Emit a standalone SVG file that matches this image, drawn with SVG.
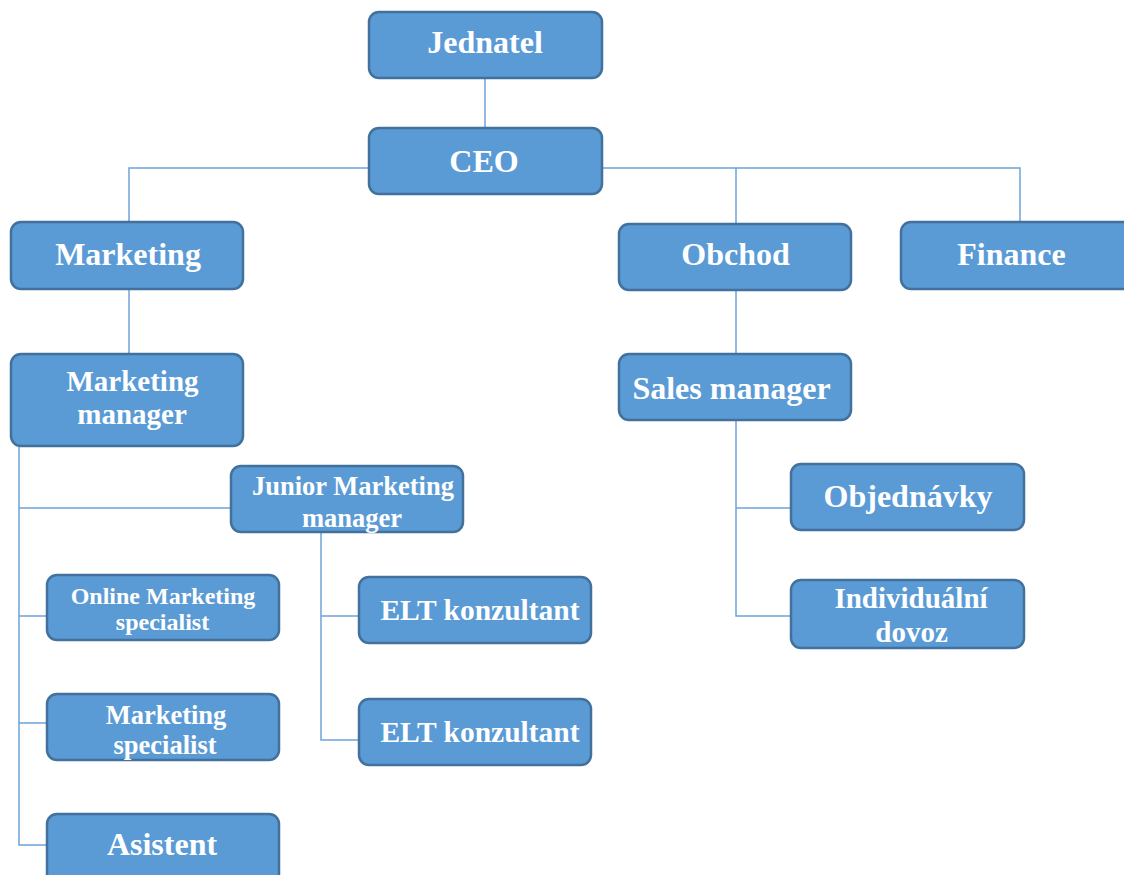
<svg xmlns="http://www.w3.org/2000/svg" width="1124" height="875" viewBox="0 0 1124 875">
<style>
.box{fill:#5b9bd5;stroke:#41719c;stroke-width:2.5}
.t{fill:#fff;font-family:"Liberation Serif","Times New Roman",serif;font-weight:bold;text-anchor:middle}
.c{fill:none;stroke:#6fa3d8;stroke-width:1.5}
</style>
<defs>
<clipPath id="clipMS"><rect x="47" y="694" width="232" height="66" rx="10"/></clipPath>
</defs>
<rect width="1124" height="875" fill="#fff"/>
<g id="connectors">
<path class="c" d="M485 78V128"/>
<path class="c" d="M369 168H129V222"/>
<path class="c" d="M602 168H1020V222M736 168V224"/>
<path class="c" d="M129 289V354"/>
<path class="c" d="M19 446V845H47M19 508H231M19 616H47M19 723H47"/>
<path class="c" d="M321 532V740H359M321 616H359"/>
<path class="c" d="M736 290V354"/>
<path class="c" d="M736 420V616H791M736 508H791"/>
</g>
<g id="jednatel"><rect class="box" x="369" y="12" width="233" height="66" rx="10"/><text class="t" x="485" y="53" font-size="32">Jednatel</text></g>
<g id="ceo"><rect class="box" x="369" y="128" width="233" height="66" rx="10"/><text class="t" x="484" y="172" font-size="32">CEO</text></g>
<g id="marketing"><rect class="box" x="11" y="222" width="232" height="67" rx="10"/><text class="t" x="128" y="265" font-size="32">Marketing</text></g>
<g id="obchod"><rect class="box" x="619" y="224" width="232" height="66" rx="10"/><text class="t" x="735.5" y="265" font-size="32">Obchod</text></g>
<g id="finance"><rect class="box" x="901" y="222" width="232" height="67" rx="10"/><text class="t" x="1011.5" y="265" font-size="32">Finance</text></g>
<g id="marketing-manager"><rect class="box" x="11" y="354" width="232" height="92" rx="10"/><text class="t" x="132.5" y="391" font-size="29">Marketing</text><text class="t" x="132" y="424" font-size="29">manager</text></g>
<g id="junior"><rect class="box" x="231" y="466" width="232" height="66" rx="10"/><text class="t" x="353" y="495" font-size="26.5">Junior Marketing</text><text class="t" x="352" y="527" font-size="26.5">manager</text></g>
<g id="online"><rect class="box" x="47" y="575" width="232" height="65" rx="10"/><text class="t" x="163" y="604" font-size="24">Online Marketing</text><text class="t" x="162.5" y="630" font-size="24">specialist</text></g>
<g id="mkt-specialist"><rect class="box" x="47" y="694" width="232" height="66" rx="10"/><g clip-path="url(#clipMS)"><text class="t" x="166" y="724" font-size="26.5">Marketing</text><text class="t" x="165" y="754" font-size="26.5">specialist</text></g></g>
<g id="asistent"><rect class="box" x="47" y="814" width="232" height="70" rx="10"/><text class="t" x="162" y="855" font-size="32">Asistent</text></g>
<g id="elt1"><rect class="box" x="359" y="577" width="232" height="66" rx="10"/><text class="t" x="480" y="620" font-size="29.5">ELT konzultant</text></g>
<g id="elt2"><rect class="box" x="359" y="699" width="232" height="66" rx="10"/><text class="t" x="480" y="742" font-size="29.5">ELT konzultant</text></g>
<g id="sales-manager"><rect class="box" x="619" y="354" width="232" height="66" rx="10"/><text class="t" x="731.5" y="399" font-size="32">Sales manager</text></g>
<g id="objednavky"><rect class="box" x="791" y="464" width="233" height="66" rx="10"/><text class="t" x="908" y="507" font-size="32">Objednávky</text></g>
<g id="individualni"><rect class="box" x="791" y="580" width="233" height="68" rx="10"/><text class="t" x="911" y="608" font-size="29">Individuální</text><text class="t" x="911.5" y="642" font-size="29">dovoz</text></g>
</svg>
